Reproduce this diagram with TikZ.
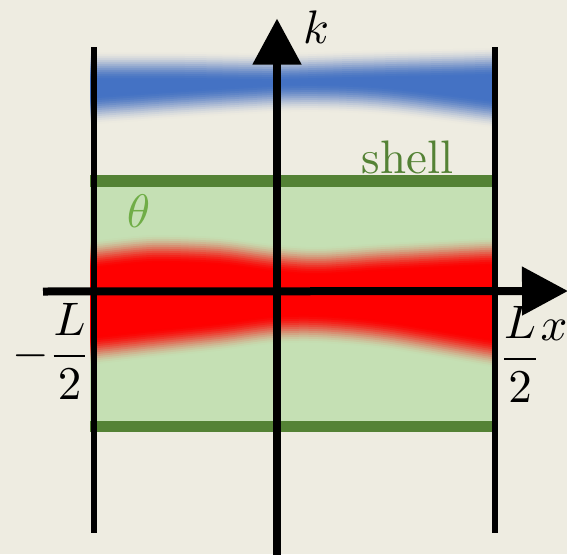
\documentclass[tikz,border=0pt]{standalone}
\usetikzlibrary{arrows.meta}
\definecolor{bg}{HTML}{EEECE1}
\definecolor{dgreen}{HTML}{548235}
\definecolor{lgreen}{HTML}{C5E0B4}
\definecolor{bblue}{HTML}{4472C4}
\definecolor{tgreen}{HTML}{70AD47}
\begin{document}
\begin{tikzpicture}[x=1pt,y=-1pt,
  lbl/.style={inner sep=0pt, font=\fontsize{10}{12}\selectfont, scale=4.7, transform shape},
  shellline/.style={draw=dgreen, line width=11.5pt},
  wall/.style={line width=6pt, black},
  axis/.style={line width=8pt, black, -{Triangle[length=46pt,width=47pt]}},
  declare function={sst(\t)=3*\t*\t-2*\t*\t*\t;}]
\useasboundingbox (0,0) rectangle (567,554);
\fill[bg] (0,0) rectangle (567,554);
% shell region
\fill[lgreen] (90,181) rectangle (493,426.5);
\coordinate (st1) at (90,181);   \coordinate (st2) at (493,181);
\coordinate (sb1) at (90,426.5); \coordinate (sb2) at (493,426.5);
\draw[shellline] (st1) -- (st2);
\draw[shellline] (sb1) -- (sb2);
% blurred bands
\begin{scope}
\clip (90,0) rectangle (493,554);
\foreach \k in {1,...,15}{
  \pgfmathsetmacro\d{14-2*(\k-1)}
  \pgfmathsetmacro\op{\k==15 ? 1 : 1-(1-sst(\k/15))/(1-sst((\k-1)/15))}
  \fill[bblue, opacity=\op] plot[smooth] coordinates {(80,{66-\d}) (98,{66-\d}) (185,{66-\d}) (272,{67-\d}) (352,{65-\d}) (485,{62-\d}) (500,{61-\d})}
    -- plot[smooth] coordinates {(500,{115+\d}) (485,{113+\d}) (385,{101+\d}) (318,{98+\d}) (272,{99+\d}) (185,{104+\d}) (98,{110+\d}) (80,{111+\d})} -- cycle;
}
\foreach \k in {1,...,15}{
  \pgfmathsetmacro\d{15-2*(\k-1)}
  \pgfmathsetmacro\op{\k==15 ? 1 : 1-(1-sst(\k/15))/(1-sst((\k-1)/15))}
  \fill[red, opacity=\op] plot[smooth] coordinates {(80,{256-\d}) (98,{255-\d}) (152,{250-\d}) (218,{252-\d}) (272,{259-\d}) (318,{262-\d}) (385,{258-\d}) (485,{253-\d}) (500,{253-\d})}
    -- plot[smooth] coordinates {(500,{353+\d}) (485,{351+\d}) (385,{334+\d}) (318,{328+\d}) (272,{329+\d}) (218,{336+\d}) (152,{343+\d}) (98,{349+\d}) (80,{350+\d})} -- cycle;
}
\end{scope}
% labels
\node[lbl, anchor=base, text=dgreen] (shell) at (407.5,173) {shell};
\node[lbl, anchor=base, text=tgreen] (theta) at (138.5,227) {$\theta$};
\node[lbl, anchor=base] (k) at (316,43) {$k$};
\node[lbl, anchor=base] (minus) at (30.5,367.75) {$-$};
\node[lbl, anchor=base] (fl) at (69.5,367.75) {$\displaystyle\frac{L}{2}$};
\node[lbl, anchor=base] (fr) at (520,370.75) {$\displaystyle\frac{L}{2}$};
\node[lbl, anchor=base] (xl) at (554,340) {$x$};
% walls
\coordinate (wl1) at (94,47);  \coordinate (wl2) at (94,533);
\coordinate (wr1) at (495,47); \coordinate (wr2) at (495,533);
\draw[wall] (wl1) -- (wl2);
\draw[wall] (wr1) -- (wr2);
% axes
\coordinate (ks) at (277,560); \coordinate (ke) at (277,18.5);
\coordinate (xs) at (43,291.5); \coordinate (xe) at (568,291);
\draw[axis] (ks) -- (ke);
\draw[axis] (xs) -- (xe);
\end{tikzpicture}
\end{document}
